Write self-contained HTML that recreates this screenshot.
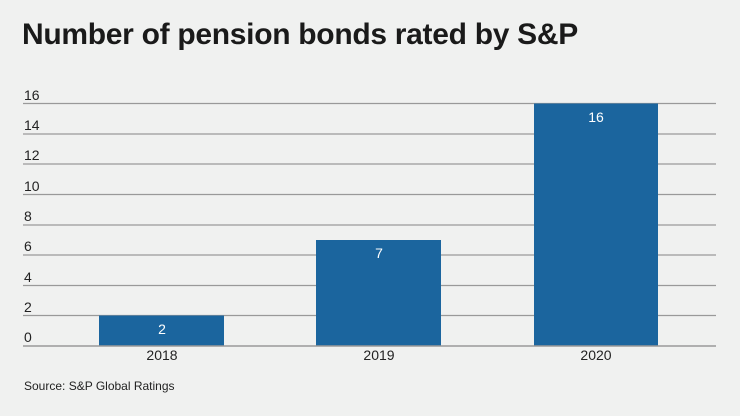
<!DOCTYPE html>
<html><head><meta charset="utf-8"><style>
body{margin:0;width:740px;height:416px;background:#f0f1f0;font-family:"Liberation Sans",sans-serif;overflow:hidden;position:relative}
.t{position:absolute;left:22px;top:18px;font-size:30px;font-weight:bold;color:#1a1a1a;letter-spacing:-0.3px}
.s{position:absolute;left:24px;top:379px;font-size:12px;color:#222}
</style></head><body>
<div class="t">Number of pension bonds rated by S&amp;P</div>
<svg width="740" height="416" style="position:absolute;left:0;top:0">
<g stroke="#999" stroke-width="1.3">
<line x1="23" x2="716" y1="103.5" y2="103.5"/><line x1="23" x2="716" y1="134" y2="134"/><line x1="23" x2="716" y1="164" y2="164"/><line x1="23" x2="716" y1="194.5" y2="194.5"/><line x1="23" x2="716" y1="225" y2="225"/><line x1="23" x2="716" y1="255" y2="255"/><line x1="23" x2="716" y1="285.5" y2="285.5"/><line x1="23" x2="716" y1="315.5" y2="315.5"/>
</g>
<g fill="#1b659e">
<rect x="99" y="315.5" width="125" height="30.5"/>
<rect x="316" y="240" width="125" height="106"/>
<rect x="534" y="103.5" width="124" height="242.5"/>
</g>
<line x1="23" x2="716" y1="346" y2="346" stroke="#999" stroke-width="1.5"/>
<g font-size="14" fill="#222" font-family="Liberation Sans,sans-serif">
<text x="24" y="100">16</text><text x="24" y="130">14</text><text x="24" y="160">12</text><text x="24" y="191">10</text><text x="24" y="221">8</text><text x="24" y="251">6</text><text x="24" y="282">4</text><text x="24" y="312">2</text><text x="24" y="342">0</text>
</g>
<g font-size="14" fill="#222" text-anchor="middle">
<text x="162" y="360">2018</text><text x="379" y="360">2019</text><text x="596" y="360">2020</text>
</g>
<g font-size="14" fill="#fff" text-anchor="middle">
<text x="162" y="334">2</text><text x="379" y="258">7</text><text x="596" y="122">16</text>
</g>
</svg>
<div class="s">Source: S&amp;P Global Ratings</div>
</body></html>
